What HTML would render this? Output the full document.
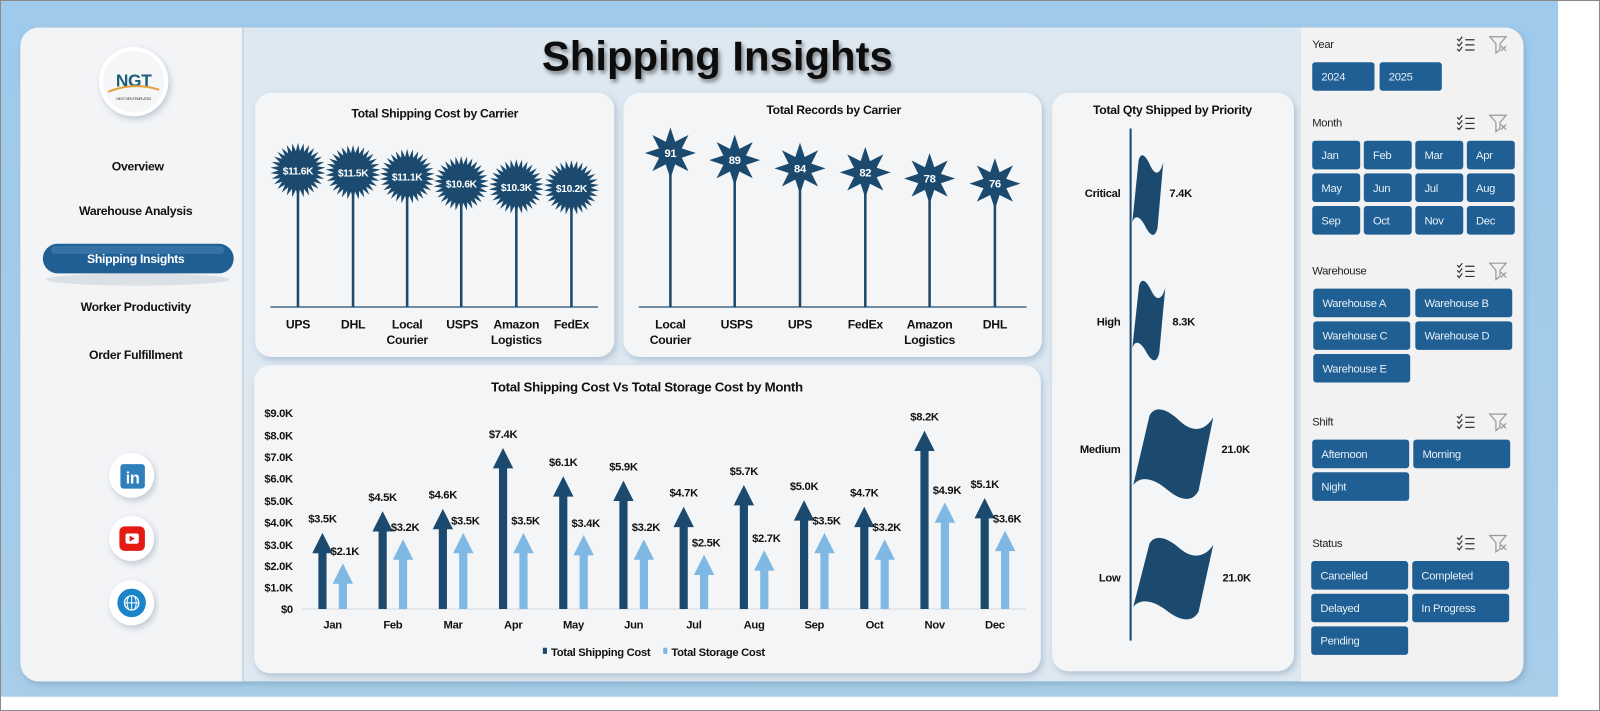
<!DOCTYPE html>
<html><head><meta charset="utf-8"><style>
html,body{margin:0;padding:0;width:1600px;height:711px;overflow:hidden;background:#fff}
#wrap{position:absolute;left:0;top:0;width:1568px;height:697px;transform:scale(1.020408,1.020086);transform-origin:0 0}
svg{position:absolute;left:0;top:0;font-family:"Liberation Sans",sans-serif;letter-spacing:-0.3px}
</style></head><body><div id="wrap">
<svg width="1568" height="697" viewBox="0 0 1568 697" xmlns="http://www.w3.org/2000/svg">
<defs>
<linearGradient id="bg" x1="0" y1="0" x2="0" y2="1"><stop offset="0" stop-color="#9fcaeb"/><stop offset="1" stop-color="#a7cde9"/></linearGradient>
<filter id="sh" x="-10%" y="-10%" width="120%" height="120%"><feDropShadow dx="2" dy="3" stdDeviation="3" flood-color="#5a7a95" flood-opacity="0.35"/></filter>
<filter id="tsh"><feDropShadow dx="2" dy="3" stdDeviation="2" flood-color="#000" flood-opacity="0.45"/></filter>
<path id="flag" d="M0.02,0.84 L0.22,0.08 C0.3,-0.04 0.45,0.02 0.6,0.15 C0.75,0.27 0.9,0.25 1,0.1 L0.82,0.9 C0.75,1.02 0.62,1.02 0.45,0.9 C0.3,0.78 0.12,0.72 0.02,0.84 Z"/>
</defs>
<rect x="0" y="0" width="1568" height="697" fill="#fff"/>
<rect x="1" y="1" width="1526" height="682" fill="url(#bg)"/>
<rect x="0.5" y="0.5" width="1567" height="696" fill="none" stroke="#8a8a8a"/>
<g filter="url(#sh)"><rect x="20" y="27" width="1473" height="641" rx="18" fill="#dde8f1"/></g>
<path d="M38,27 H238 V668 H38 A18,18 0 0 1 20,650 V45 A18,18 0 0 1 38,27 Z" fill="#f3f4f6"/>
<path d="M1275,27 H1475 A18,18 0 0 1 1493,45 V650 A18,18 0 0 1 1475,668 H1275 Z" fill="#f2f2f2"/>
<line x1="238" y1="27" x2="238" y2="668" stroke="#cfd9e2" stroke-width="2"/>
<text x="703" y="69" text-anchor="middle" font-size="41" font-weight="bold" fill="#111" filter="url(#tsh)" letter-spacing="0">Shipping Insights</text>
<g filter="url(#sh)"><circle cx="131" cy="80" r="34" fill="#fff"/></g>
<circle cx="131" cy="80" r="30" fill="#f4f6f8"/>
<text x="131" y="85" text-anchor="middle" font-size="17" font-weight="bold" fill="#1d5f7a">NGT</text>
<path d="M106,90 Q131,80 156,88" stroke="#e2a23b" stroke-width="2" fill="none"/>
<text x="131" y="98" text-anchor="middle" font-size="3.5" fill="#333">NEXT GEN TEMPLATES</text>
<g font-size="12" font-weight="bold" fill="#111" text-anchor="middle">
<text x="135" y="167">Overview</text>
<text x="133" y="211">Warehouse Analysis</text>
<text x="133" y="305">Worker Productivity</text>
<text x="133" y="352">Order Fulfillment</text>
</g>
<ellipse cx="135" cy="274" rx="90" ry="6" fill="#c9d3dc" opacity="0.6"/>
<rect x="42" y="239" width="187" height="29" rx="14.5" fill="#1f5f94"/>
<rect x="50" y="241" width="170" height="8" rx="4" fill="#4d86b5" opacity="0.5"/>
<text x="133" y="258" text-anchor="middle" font-size="12" font-weight="bold" fill="#fff">Shipping Insights</text>
<g filter="url(#sh)"><circle cx="129" cy="466" r="22" fill="#fff"/><circle cx="129" cy="528" r="22" fill="#fff"/><circle cx="129" cy="591" r="22" fill="#fff"/></g>
<rect x="118" y="455" width="24" height="24" rx="3" fill="#2f7fbd"/>
<text x="130" y="474" text-anchor="middle" font-size="16" font-weight="bold" fill="#fff">in</text>
<rect x="117" y="516" width="25" height="24" rx="5" fill="#e31b12"/>
<rect x="123" y="523" width="13" height="10" rx="2" fill="#fff"/><path d="M127,525 L132,528 L127,531 Z" fill="#e31b12"/>
<circle cx="129" cy="591" r="14" fill="#1a84c9"/><circle cx="129" cy="591" r="7" fill="none" stroke="#fff" stroke-width="1.3"/>
<path d="M122,591 H136 M129,584 V598 M126,585 Q123,591 126,597 M132,585 Q135,591 132,597" stroke="#fff" stroke-width="1" fill="none"/>
<g filter="url(#sh)" fill="#f3f5f7">
<rect x="250" y="91" width="352" height="259" rx="16"/>
<rect x="611" y="91" width="410" height="259" rx="16"/>
<rect x="1031" y="91" width="237" height="567" rx="16"/>
<rect x="249" y="358" width="771" height="302" rx="16"/>
</g>
<text x="426" y="115" text-anchor="middle" font-size="12" font-weight="bold" fill="#111">Total Shipping Cost by Carrier</text>
<line x1="265" y1="301" x2="586" y2="301" stroke="#4a6a86" stroke-width="1.5"/>
<g stroke="#1b4a6e" stroke-width="2.5">
<line x1="292" y1="167" x2="292" y2="301"/><line x1="346" y1="169" x2="346" y2="301"/><line x1="399" y1="173" x2="399" y2="301"/>
<line x1="452" y1="180" x2="452" y2="301"/><line x1="506" y1="183" x2="506" y2="301"/><line x1="560" y1="184" x2="560" y2="301"/>
</g>
<g id="stars1" fill="#1b4a6e"></g>
<g font-size="10" font-weight="bold" fill="#fff" text-anchor="middle">
<text x="292" y="171">$11.6K</text><text x="346" y="173">$11.5K</text><text x="399" y="177">$11.1K</text>
<text x="452" y="184">$10.6K</text><text x="506" y="187">$10.3K</text><text x="560" y="188">$10.2K</text>
</g>
<g font-size="12" font-weight="bold" fill="#111" text-anchor="middle">
<text x="292" y="322">UPS</text><text x="346" y="322">DHL</text><text x="399" y="322">Local</text><text x="399" y="337">Courier</text>
<text x="453" y="322">USPS</text><text x="506" y="322">Amazon</text><text x="506" y="337">Logistics</text><text x="560" y="322">FedEx</text>
</g>
<text x="817" y="112" text-anchor="middle" font-size="12" font-weight="bold" fill="#111">Total Records by Carrier</text>
<line x1="626" y1="301" x2="1006" y2="301" stroke="#4a6a86" stroke-width="1.5"/>
<g stroke="#1b4a6e" stroke-width="2.5">
<line x1="657" y1="150" x2="657" y2="301"/><line x1="720" y1="157" x2="720" y2="301"/><line x1="784" y1="165" x2="784" y2="301"/>
<line x1="848" y1="169" x2="848" y2="301"/><line x1="911" y1="175" x2="911" y2="301"/><line x1="975" y1="180" x2="975" y2="301"/>
</g>
<g id="stars2" fill="#1b4a6e"></g>
<g font-size="11" font-weight="bold" fill="#fff" text-anchor="middle">
<text x="657" y="154">91</text><text x="720" y="161">89</text><text x="784" y="169">84</text>
<text x="848" y="173">82</text><text x="911" y="179">78</text><text x="975" y="184">76</text>
</g>
<g font-size="12" font-weight="bold" fill="#111" text-anchor="middle">
<text x="657" y="322">Local</text><text x="657" y="337">Courier</text><text x="722" y="322">USPS</text><text x="784" y="322">UPS</text>
<text x="848" y="322">FedEx</text><text x="911" y="322">Amazon</text><text x="911" y="337">Logistics</text><text x="975" y="322">DHL</text>
</g>
<text x="1149" y="112" text-anchor="middle" font-size="12" font-weight="bold" fill="#111">Total Qty Shipped by Priority</text>
<line x1="1108" y1="126" x2="1108" y2="628" stroke="#1b4a6e" stroke-width="2"/>
<g fill="#1b4a6e">
<use href="#flag" transform="translate(1109,151) scale(31,80)"/>
<use href="#flag" transform="translate(1109,274) scale(33,80)"/>
<use href="#flag" transform="translate(1109,400) scale(80,90)"/>
<use href="#flag" transform="translate(1109,526) scale(80,82)"/>
</g>
<g font-size="11" font-weight="bold" fill="#111">
<g text-anchor="end"><text x="1098" y="193">Critical</text><text x="1098" y="319">High</text><text x="1098" y="444">Medium</text><text x="1098" y="570">Low</text></g>
<text x="1146" y="193">7.4K</text><text x="1149" y="319">8.3K</text><text x="1197" y="444">21.0K</text><text x="1198" y="570">21.0K</text>
</g>
<text x="634" y="384" text-anchor="middle" font-size="13" font-weight="bold" fill="#111">Total Shipping Cost Vs Total Storage Cost by Month</text>
<g font-size="11" font-weight="bold" fill="#111" text-anchor="end">
<text x="287" y="409">$9.0K</text><text x="287" y="431">$8.0K</text><text x="287" y="452">$7.0K</text><text x="287" y="473">$6.0K</text>
<text x="287" y="495">$5.0K</text><text x="287" y="516">$4.0K</text><text x="287" y="538">$3.0K</text><text x="287" y="559">$2.0K</text>
<text x="287" y="580">$1.0K</text><text x="287" y="601">$0</text>
</g>
<line x1="296" y1="597" x2="1005" y2="597" stroke="#d5dbe0" stroke-width="1"/>
<g id="arrows"></g>
<g id="alabels" font-size="11" font-weight="bold" fill="#111" text-anchor="middle"></g>
<g font-size="11" font-weight="bold" fill="#111" text-anchor="middle">
<text x="326" y="616">Jan</text><text x="385" y="616">Feb</text><text x="444" y="616">Mar</text><text x="503" y="616">Apr</text>
<text x="562" y="616">May</text><text x="621" y="616">Jun</text><text x="680" y="616">Jul</text><text x="739" y="616">Aug</text>
<text x="798" y="616">Sep</text><text x="857" y="616">Oct</text><text x="916" y="616">Nov</text><text x="975" y="616">Dec</text>
</g>
<rect x="532" y="635" width="4" height="6" fill="#1b4a6e"/>
<text x="540" y="643" font-size="11" font-weight="bold" fill="#111">Total Shipping Cost</text>
<rect x="650" y="635" width="4" height="6" fill="#7fb8e3"/>
<text x="658" y="643" font-size="11" font-weight="bold" fill="#111">Total Storage Cost</text>
<g id="filters"></g>
</svg>
</div>
<script>
var NS="http://www.w3.org/2000/svg";
function el(p,t,a,txt){var e=document.createElementNS(NS,t);for(var k in a)e.setAttribute(k,a[k]);if(txt!=null)e.textContent=txt;p.appendChild(e);return e;}
function star(cx,cy,n,ro,ri){var p=[];for(var i=0;i<2*n;i++){var r=i%2?ri:ro;var a=Math.PI*i/n-Math.PI/2;p.push((cx+r*Math.cos(a)).toFixed(1)+","+(cy+r*Math.sin(a)).toFixed(1));}return p.join(" ");}
var s1=document.getElementById("stars1");
[[292,167],[346,169],[399,173],[452,180],[506,183],[560,184]].forEach(function(c){el(s1,"polygon",{points:star(c[0],c[1],30,27,19)});});
var s2=document.getElementById("stars2");
[[657,150],[720,157],[784,165],[848,169],[911,175],[975,180]].forEach(function(c){el(s2,"polygon",{points:star(c[0],c[1],8,25,12)});});
var ship=[3.5,4.5,4.6,7.4,6.1,5.9,4.7,5.7,5.0,4.7,8.2,5.1],stor=[2.1,3.2,3.5,3.5,3.4,3.2,2.5,2.7,3.5,3.2,4.9,3.6];
var ar=document.getElementById("arrows"),al=document.getElementById("alabels");
function arrow(x,v,col){var top=597-v*21.33;var hh=20;el(ar,"path",{d:"M"+(x-4)+",597 V"+(top+hh)+" H"+(x-10)+" L"+x+","+top+" L"+(x+10)+","+(top+hh)+" H"+(x+4)+" V597 Z",fill:col});return top;}
for(var i=0;i<12;i++){var c=326+59*i;var t1=arrow(c-10,ship[i],"#1b4a6e");var t2=arrow(c+10,stor[i],"#7fb8e3");
el(al,"text",{x:c-10,y:t1-10},"$"+ship[i].toFixed(1)+"K");el(al,"text",{x:c+12,y:t2-8},"$"+stor[i].toFixed(1)+"K");}
var f=document.getElementById("filters");
function hdr(y,label){el(f,"text",{x:1286,y:y+4,"font-size":"11",fill:"#222"},label);
el(f,"path",{d:"M1428,"+(y-5)+" l2,2 l3,-4 M1428,"+(y)+" l2,2 l3,-4 M1428,"+(y+5)+" l2,2 l3,-4 M1436,"+(y-4)+" h9 M1436,"+(y+1)+" h9 M1436,"+(y+6)+" h9",stroke:"#333","stroke-width":"1.2",fill:"none"});
el(f,"path",{d:"M1460,"+(y-7)+" h16 l-6,7 v6 l-4,3 v-9 Z",stroke:"#999","stroke-width":"1.2",fill:"none"});
el(f,"path",{d:"M1471,"+(y+2)+" l5,5 M1476,"+(y+2)+" l-5,5",stroke:"#999","stroke-width":"1.2"});}
function btn(x,y,w,label){el(f,"rect",{x:x,y:y,width:w,height:28,rx:3,fill:"#1f5f94"});el(f,"text",{x:x+9,y:y+18,"font-size":"11",fill:"#e8f0f7"},label);}
hdr(43,"Year");btn(1286,61,61,"2024");btn(1352,61,61,"2025");
hdr(120,"Month");var m=["Jan","Feb","Mar","Apr","May","Jun","Jul","Aug","Sep","Oct","Nov","Dec"];
for(var i=0;i<12;i++){btn(1286+(i%4)*50.5,138+Math.floor(i/4)*32,47,m[i]);}
hdr(265,"Warehouse");var w=["Warehouse A","Warehouse B","Warehouse C","Warehouse D","Warehouse E"];
for(var i=0;i<5;i++){btn(1287+(i%2)*100,283+Math.floor(i/2)*32,95,w[i]);}
hdr(413,"Shift");["Afternoon","Morning","Night"].forEach(function(s,i){btn(1286+(i%2)*99,431+Math.floor(i/2)*32,95,s);});
hdr(532,"Status");["Cancelled","Completed","Delayed","In Progress","Pending"].forEach(function(s,i){btn(1285+(i%2)*99,550+Math.floor(i/2)*32,95,s);});
</script>
</body></html>
